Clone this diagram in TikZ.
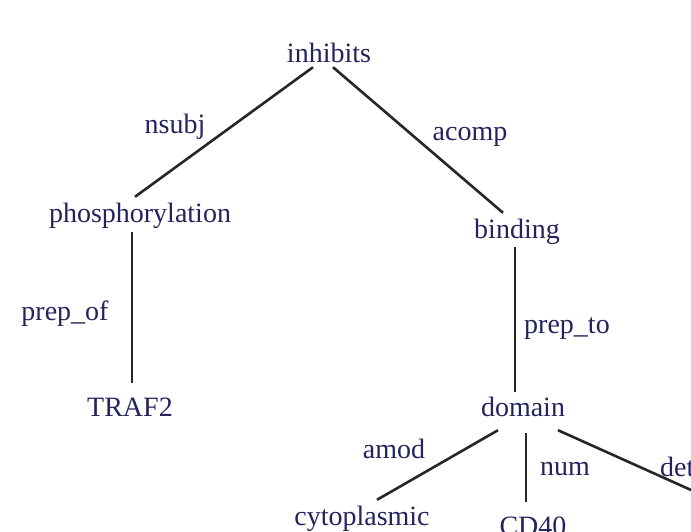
\documentclass[tikz,border=0pt]{standalone}
\usepackage{fontspec}
\setmainfont{Liberation Serif}
\usepackage{xcolor}
\usepackage{tikz}
\usetikzlibrary{positioning}
\definecolor{depword}{HTML}{23235E}
\definecolor{depline}{HTML}{262626}

\begin{document}
\begin{tikzpicture}[x=1pt, y=-1pt,
  word/.style={text=depword, font=\fontsize{28}{34}\selectfont, inner sep=0pt,
    text height=20pt, text depth=7pt, anchor=base},
  rel/.style={word},
  dep/.style={draw=depline, line width=2.6pt}]
  \useasboundingbox (0,0) rectangle (691,531);
  \node[word] (inhibits) at (329,62) {inhibits};
  \node[word] (phos) at (140,222) {phosphorylation};
  \node[word] (binding) at (517,238) {binding};
  \node[word] (traf) at (130,416) {TRAF2};
  \node[word] (domain) at (523,416) {domain};
  \node[word] (cyto) at (362,525) {cytoplasmic};
  \node[word] (cd) at (533,535) {CD40};
  \coordinate (detend) at (760,521);
  \node[rel] (nsubj) at (175,133) {nsubj};
  \node[rel] (acomp) at (470,140) {acomp};
  \node[rel] (prepof) at (65,320) {prep\_of};
  \node[rel] (prepto) at (567,333) {prep\_to};
  \node[rel] (amod) at (394,458) {amod};
  \node[rel] (num) at (565,475) {num};
  \node[rel, anchor=base west] (det) at (660,476) {det};
  \draw[dep] ([xshift=-16pt,yshift=2pt]inhibits.south) -- ([xshift=-5pt,yshift=5pt]phos.north);
  \draw[dep] ([xshift=4pt,yshift=2pt]inhibits.south) -- ([xshift=-14pt,yshift=5pt]binding.north);
  \draw[dep] ([xshift=-8pt,yshift=-3pt]phos.south) -- ([xshift=2pt,yshift=13pt]traf.north);
  \draw[dep] ([xshift=-2pt,yshift=-2pt]binding.south) -- ([xshift=-8pt,yshift=4pt]domain.north);
  \draw[dep] ([xshift=-25pt,yshift=-7pt]domain.south) -- ([xshift=15pt,yshift=5pt]cyto.north);
  \draw[dep] ([xshift=3pt,yshift=-10pt]domain.south) -- ([xshift=-7pt,yshift=13pt]cd.north);
  \draw[dep] ([xshift=35pt,yshift=-7pt]domain.south) -- (detend);
\end{tikzpicture}
\end{document}
